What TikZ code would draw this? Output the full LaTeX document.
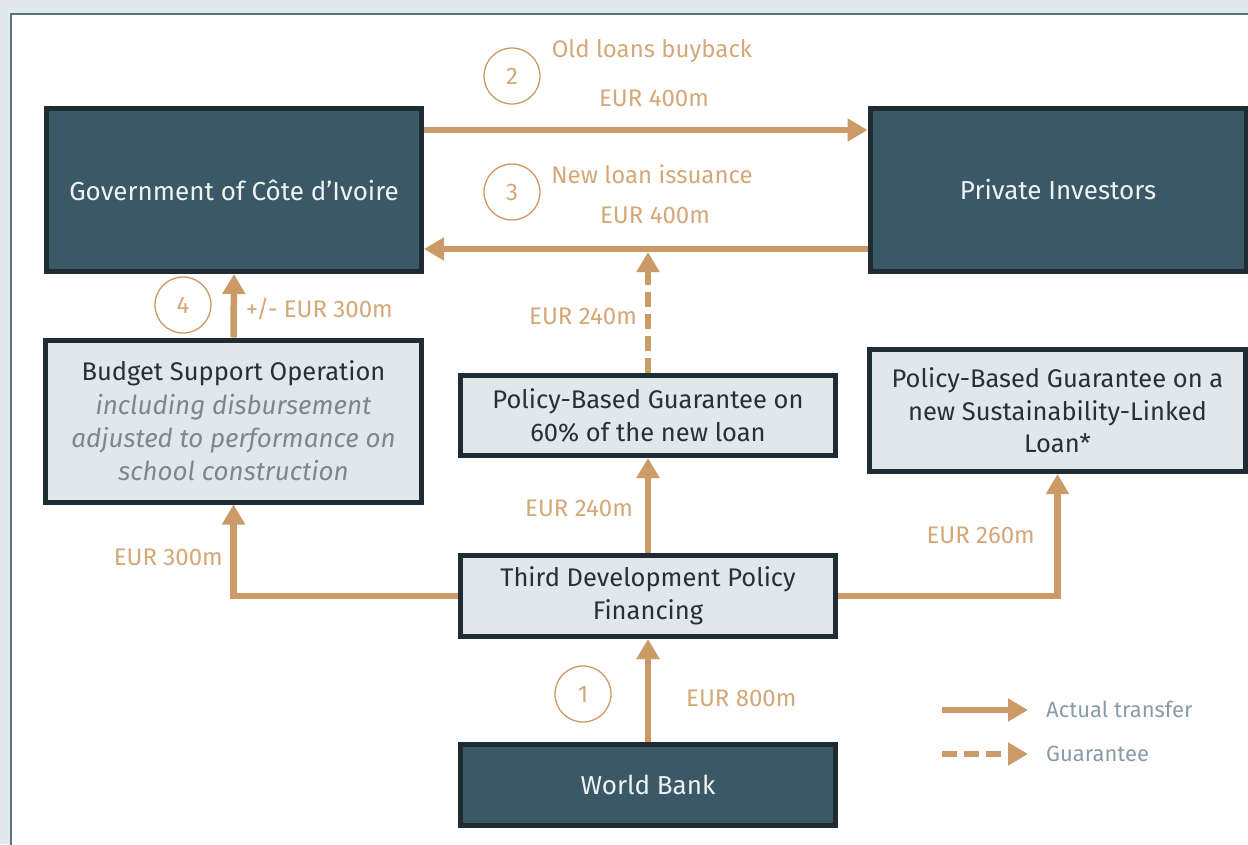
\documentclass[tikz,border=0pt]{standalone}
\usepackage{fontspec}
\setmainfont{Fira Sans}
\usetikzlibrary{arrows.meta,positioning,calc}
\definecolor{bgc}{HTML}{E2E9EC}
\definecolor{framec}{HTML}{587384}
\definecolor{darkfill}{HTML}{3A5866}
\definecolor{darkline}{HTML}{1F2C34}
\definecolor{lightfill}{HTML}{E1E8EB}
\definecolor{arrc}{HTML}{CC9A66}
\definecolor{labc}{HTML}{D4A878}
\definecolor{boxtext}{HTML}{2A2F33}
\definecolor{itc}{HTML}{7F878E}
\definecolor{legc}{HTML}{8B9CA6}
\definecolor{whitetext}{HTML}{EEF2F3}
\tikzset{
  darkbox/.style={draw=darkline, line width=5pt, fill=darkfill, text=whitetext, align=center, font=\fontsize{26}{30}\selectfont, inner sep=0pt},
  lightbox/.style={draw=darkline, line width=5pt, fill=lightfill, text=boxtext, align=center, font=\fontsize{25.5}{32.5}\selectfont, inner sep=0pt},
  itl/.style={},
  arr/.style={draw=arrc, line width=6.5pt, -{Triangle[length=20pt,width=22pt]}},
  garr/.style={arr, dash pattern=on 15pt off 7pt},
  lab/.style={text=labc, font=\fontsize{24}{26}\selectfont, inner sep=0pt},
  num/.style={circle, draw=arrc, line width=1.3pt, minimum size=56pt, inner sep=0pt, text=labc, font=\fontsize{24}{26}\selectfont},
  legt/.style={text=legc, font=\fontsize{22}{26}\selectfont, inner sep=0pt, anchor=west}
}
\newcommand{\itg}[1]{{\color{itc}\fontsize{26}{33}\selectfont\itshape #1}}
\begin{document}
\begin{tikzpicture}[x=1pt,y=-1pt]
\useasboundingbox (0,0) rectangle (1248,844);
\fill[bgc] (0,0) rectangle (1248,844);
\filldraw[fill=white, draw=framec, line width=2pt] (11,14) rectangle (1270,870);

% boxes
\node[darkbox, minimum width=375pt, minimum height=163pt] (gov) at (234,190) {Government of Côte d’Ivoire};
\node[darkbox, minimum width=376pt, minimum height=163pt] (priv) at (1058,190) {Private Investors};
\node[lightbox, minimum width=376pt, minimum height=162pt, font=\fontsize{25.5}{33.3}\selectfont] (bud) at (233.5,421) {Budget Support Operation\\ \itg{including disbursement}\\ \itg{adjusted to performance on}\\ \itg{school construction}};
\node[lightbox, minimum width=375pt, minimum height=80pt] (pbg1) at (648,415.5) {Policy-Based Guarantee on\\ 60\% of the new loan};
\node[lightbox, minimum width=375pt, minimum height=81pt] (tdpf) at (648,596) {Third Development Policy\\ Financing};
\node[lightbox, minimum width=376pt, minimum height=122pt] (pbg2) at (1057.5,410.5) {Policy-Based Guarantee on a\\ new Sustainability-Linked\\ Loan*};
\node[darkbox, minimum width=375pt, minimum height=81pt] (wb) at (648,785) {World Bank};

% arrows
\draw[arr] (gov.east |- 0,130) -- (priv.west |- 0,130);
\draw[arr] (priv.west |- 0,249) -- (gov.east |- 0,249);
\coordinate (g3) at (648,252);
\draw[garr] (pbg1.north) -- (g3);
\draw[arr] (bud.north) -- (gov.south);
\draw[arr] (tdpf.north) -- (pbg1.south);
\draw[arr] (tdpf.west) -| (bud.south);
\draw[arr] (tdpf.east) -| (pbg2.south);
\draw[arr] (wb.north) -- (tdpf.south);

% numbers
\node[num] (n2) at (512,76) {2};
\node[num] (n3) at (512,192) {3};
\node[num] (n4) at (183,305) {4};
\node[num] (n1) at (583,694) {1};

% labels
\node[lab] (l2a) at (652,51) {Old loans buyback};
\node[lab] (l2b) at (654,98) {EUR 400m};
\node[lab] (l3a) at (652,174) {New loan issuance};
\node[lab] (l3b) at (655,215) {EUR 400m};
\node[lab, anchor=east] (lg) at (637,316) {EUR 240m};
\node[lab, anchor=west] (l4) at (246,309) {+/- EUR 300m};
\node[lab, anchor=east] (l240) at (633,508) {EUR 240m};
\node[lab, anchor=east] (l300) at (223,557) {EUR 300m};
\node[lab, anchor=east] (l260) at (1035,535) {EUR 260m};
\node[lab, anchor=west] (l800) at (686,698) {EUR 800m};

% legend
\coordinate (la1) at (942,710);
\coordinate (la2) at (1028,710);
\coordinate (lb1) at (942,754);
\coordinate (lb2) at (1028,754);
\draw[arr] (la1) -- (la2);
\draw[garr] (lb1) -- (lb2);
\node[legt] (lt1) at (1046,709) {Actual transfer};
\node[legt] (lt2) at (1046,754) {Guarantee};
\end{tikzpicture}
\end{document}
